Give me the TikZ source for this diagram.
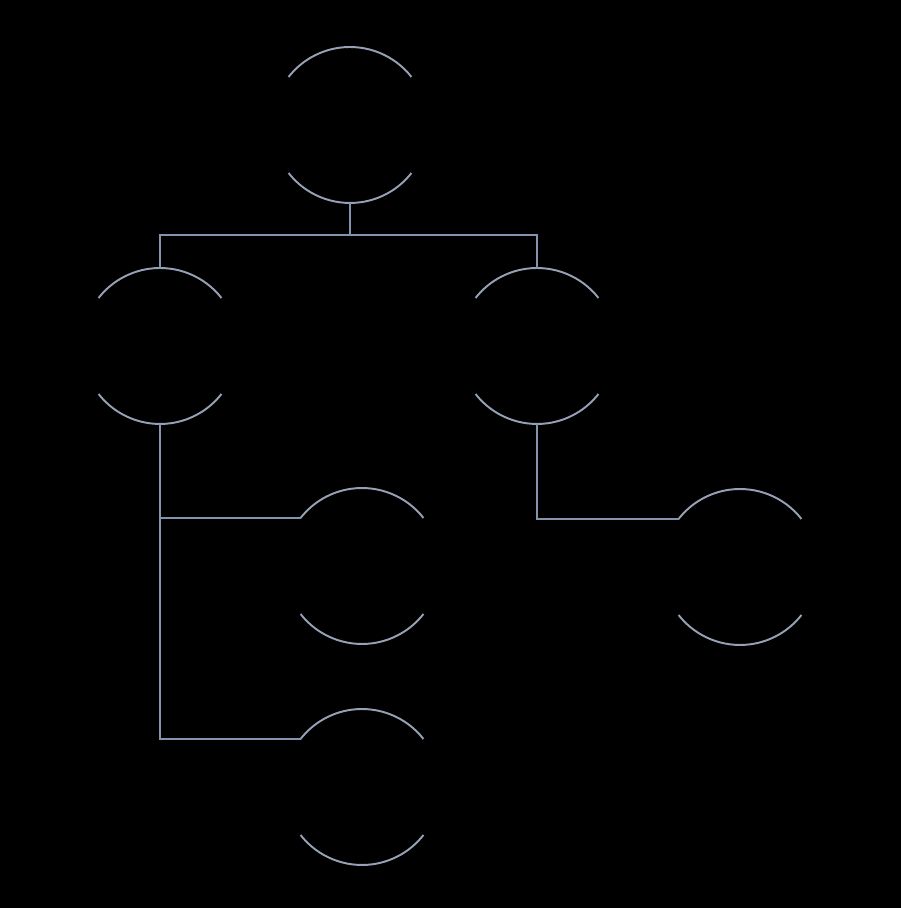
\documentclass[tikz,border=0pt]{standalone}
\usepackage{xcolor}
\usepackage{tikz}
\usetikzlibrary{arrows.meta,positioning,calc}
\definecolor{wire}{HTML}{8494AE}
\definecolor{rim}{HTML}{97A1B6}

\begin{document}
\begin{tikzpicture}[
  x=0.02cm,y=0.02cm,
  disc/.style={circle,minimum size=3.12cm,inner sep=0pt,outer sep=0pt},
  link/.style={draw=wire,line width=1.1pt},
  ring/.style={draw=rim,line width=1.1pt}
]
\fill[black] (0,0) rectangle (901,908);
\useasboundingbox (0,0) rectangle (901,908);

\node[disc] (root) at (350,783) {};
\node[disc] (lt)   at (160,562) {};
\node[disc] (rt)   at (537,562) {};
\node[disc] (ga)   at (362,342) {};
\node[disc] (gb)   at (362,121) {};
\node[disc] (gc)   at (740,341) {};

% only the upper and lower rims of each disc are drawn
\foreach \n in {root,lt,rt,ga,gb,gc}{
  \draw[ring] (\n.38) arc[start angle=38,end angle=142,radius=1.56cm];
  \draw[ring] (\n.218) arc[start angle=218,end angle=322,radius=1.56cm];
}

\coordinate (bar) at (350,673);
\draw[link] (root.south) -- (bar);
\draw[link] (bar) -| (lt.north);
\draw[link] (bar) -| (rt.north);
\draw[link] (lt.south) |- (ga.142);
\draw[link] (lt.south) |- (gb.142);
\draw[link] (rt.south) |- (gc.142);
\end{tikzpicture}
\end{document}
